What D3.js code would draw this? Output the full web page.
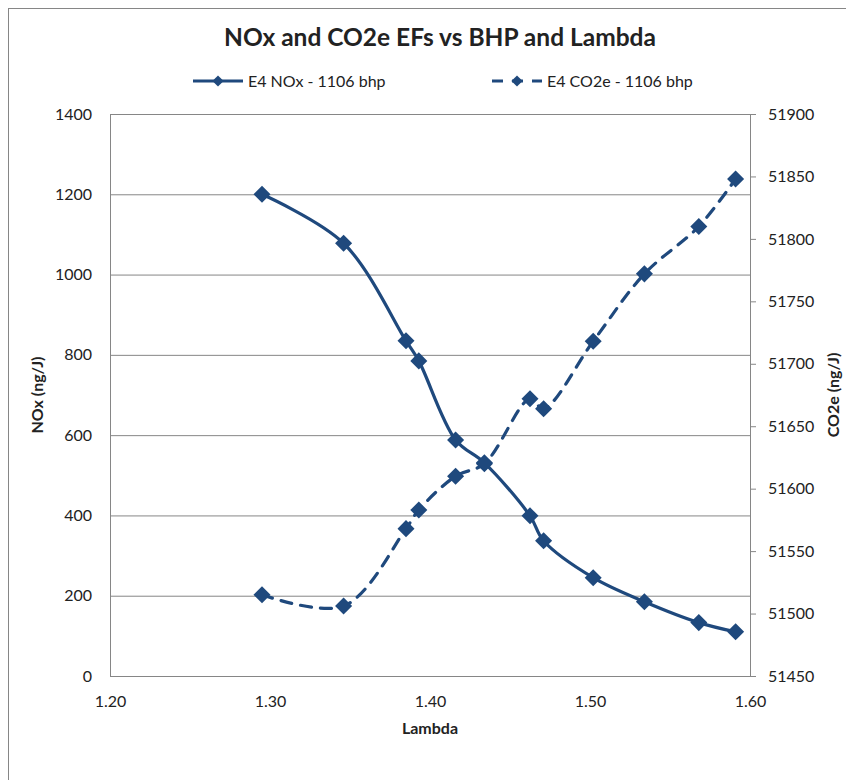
<!DOCTYPE html>
<html>
<head>
<meta charset="utf-8">
<script src="https://cdn.jsdelivr.net/npm/d3@7"></script>
<style>
  body { margin: 0; background: #fff; }
  text { font-family: Lato, "Liberation Sans", sans-serif; fill: #222; }
</style>
</head>
<body>
<div id="chart-area"></div>
<script>
// data
const lambda = [1.295, 1.346, 1.385, 1.393, 1.416, 1.434, 1.4625, 1.471, 1.502, 1.534, 1.568, 1.591]
const nox = [1200, 1078, 835, 785, 588, 531, 399, 337, 245, 185, 133, 110]
const co2e = [51515, 51506, 51568, 51583, 51610, 51620, 51672, 51664, 51718, 51772, 51810, 51848]
const seriesNames = ["E4 NOx - 1106 bhp", "E4 CO2e - 1106 bhp"]
const leftTicks = [0, 200, 400, 600, 800, 1000, 1200, 1400]
const rightTicks = [51450, 51500, 51550, 51600, 51650, 51700, 51750, 51800, 51850, 51900]
const xTicks = [1.2, 1.3, 1.4, 1.5, 1.6]

const W = 846, H = 780
const MARGIN = { LEFT: 110, RIGHT: 96, TOP: 114, BOTTOM: 104 }
const WIDTH = W - MARGIN.LEFT - MARGIN.RIGHT
const HEIGHT = H - MARGIN.TOP - MARGIN.BOTTOM
const BLUE = "#1f497d"
const GREY = "#868686"

const svg = d3.select("#chart-area").append("svg")
  .attr("width", W)
  .attr("height", H)

// outer chart frame (cut off at the right and bottom)
svg.append("rect")
  .attr("x", 8.5).attr("y", 8.5)
  .attr("width", 900).attr("height", 900)
  .attr("fill", "#fff")
  .attr("stroke", GREY)

const g = svg.append("g")
  .attr("transform", `translate(${MARGIN.LEFT}, ${MARGIN.TOP})`)

const x = d3.scaleLinear().domain([1.2, 1.6]).range([0, WIDTH])
const yL = d3.scaleLinear().domain([0, 1400]).range([HEIGHT, 0])
const yR = d3.scaleLinear().domain([51450, 51900]).range([HEIGHT, 0])

// gridlines
g.append("g")
  .attr("class", "grid")
  .call(d3.axisLeft(yL).tickValues(leftTicks).tickSize(-WIDTH).tickFormat(""))
  .call(s => s.select(".domain").remove())
  .selectAll("line").attr("stroke", GREY).attr("stroke-width", 1)

// plot border
g.append("rect")
  .attr("x", 0.5).attr("y", 0.5)
  .attr("width", WIDTH).attr("height", HEIGHT)
  .attr("fill", "none")
  .attr("stroke", GREY)

// left axis
const leftAxis = g.append("g")
  .call(d3.axisLeft(yL).tickValues(leftTicks).tickSize(0).tickPadding(18).tickFormat(d3.format("d")))
leftAxis.select(".domain").remove()

// right axis
const rightAxis = g.append("g")
  .attr("transform", `translate(${WIDTH}, 0)`)
  .call(d3.axisRight(yR).tickValues(rightTicks).tickSize(6).tickPadding(12).tickFormat(d3.format("d")))
rightAxis.select(".domain").remove()
rightAxis.selectAll("line").attr("stroke", GREY)

// bottom axis
const bottomAxis = g.append("g")
  .attr("transform", `translate(0, ${HEIGHT})`)
  .call(d3.axisBottom(x).tickValues(xTicks).tickSize(0).tickPadding(20).tickFormat(d3.format(".2f")))
bottomAxis.select(".domain").remove()

svg.selectAll(".tick text")
  .style("font-size", "16px")
  .style("fill", "#222")

// lines
const noxData = lambda.map((l, i) => ({ x: l, y: nox[i] }))
const co2Data = lambda.map((l, i) => ({ x: l, y: co2e[i] }))

const noxLine = d3.line().x(d => x(d.x)).y(d => yL(d.y)).curve(d3.curveCatmullRom.alpha(0.5))
const co2Line = d3.line().x(d => x(d.x)).y(d => yR(d.y)).curve(d3.curveCatmullRom.alpha(0.5))

g.append("path")
  .datum(co2Data)
  .attr("d", co2Line)
  .attr("fill", "none")
  .attr("stroke", BLUE)
  .attr("stroke-width", 3.2)
  .attr("stroke-dasharray", "11,9")
  .attr("stroke-linecap", "round")

g.append("path")
  .datum(noxData)
  .attr("d", noxLine)
  .attr("fill", "none")
  .attr("stroke", BLUE)
  .attr("stroke-width", 3.2)

const diamond = d3.symbol().type(d3.symbolDiamond2).size(185)

g.selectAll(".co2pt")
  .data(co2Data)
  .enter().append("path")
  .attr("class", "co2pt")
  .attr("transform", d => `translate(${x(d.x)}, ${yR(d.y)})`)
  .attr("d", diamond)
  .attr("fill", BLUE)

g.selectAll(".noxpt")
  .data(noxData)
  .enter().append("path")
  .attr("class", "noxpt")
  .attr("transform", d => `translate(${x(d.x)}, ${yL(d.y)})`)
  .attr("d", diamond)
  .attr("fill", BLUE)

// title
svg.append("text")
  .attr("x", 440)
  .attr("y", 46)
  .attr("text-anchor", "middle")
  .attr("font-weight", "bold")
  .style("font-size", "24.5px")
  .text("NOx and CO2e EFs vs BHP and Lambda")

// legend
const legend = svg.append("g")
const legendItems = [
  { name: seriesNames[0], x0: 193, dash: null },
  { name: seriesNames[1], x0: 492, dash: "11,9" }
]
legendItems.forEach(item => {
  legend.append("line")
    .attr("x1", item.x0).attr("x2", item.x0 + 50)
    .attr("y1", 81).attr("y2", 81)
    .attr("stroke", BLUE)
    .attr("stroke-width", 3.2)
    .attr("stroke-dasharray", item.dash)
  legend.append("path")
    .attr("transform", `translate(${item.x0 + 25}, 81)`)
    .attr("d", d3.symbol().type(d3.symbolDiamond2).size(80))
    .attr("fill", BLUE)
  legend.append("text")
    .attr("x", item.x0 + 55)
    .attr("y", 87)
    .style("font-size", "16px")
    .text(item.name)
})

// axis titles
svg.append("text")
  .attr("x", MARGIN.LEFT + WIDTH / 2)
  .attr("y", 734)
  .attr("text-anchor", "middle")
  .attr("font-weight", "bold")
  .style("font-size", "16px")
  .text("Lambda")

svg.append("text")
  .attr("transform", `translate(43, ${MARGIN.TOP + HEIGHT / 2}) rotate(-90)`)
  .attr("text-anchor", "middle")
  .attr("font-weight", "bold")
  .style("font-size", "16px")
  .text("NOx (ng/J)")

svg.append("text")
  .attr("transform", `translate(839, ${MARGIN.TOP + HEIGHT / 2}) rotate(-90)`)
  .attr("text-anchor", "middle")
  .attr("font-weight", "bold")
  .style("font-size", "16px")
  .text("CO2e (ng/J)")
</script>
</body>
</html>
